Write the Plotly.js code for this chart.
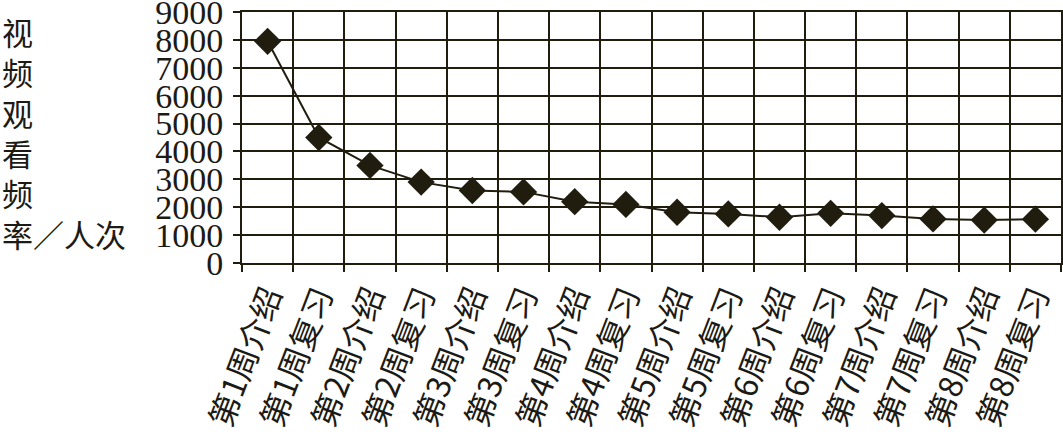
<!DOCTYPE html>
<html>
<head>
<meta charset="utf-8">
<script src="https://cdn.plot.ly/plotly-3.0.1.min.js"></script>
<style>
  html, body { margin: 0; padding: 0; background: #ffffff; }
  #chart { width: 1063px; height: 438px; }
</style>
</head>
<body>
<div id="chart"></div>
<script>
// Weekly sessions: introduction and review video for each of the 8 weeks
const categories = [
  "第1周介绍", "第1周复习", "第2周介绍", "第2周复习",
  "第3周介绍", "第3周复习", "第4周介绍", "第4周复习",
  "第5周介绍", "第5周复习", "第6周介绍", "第6周复习",
  "第7周介绍", "第7周复习", "第8周介绍", "第8周复习"
];
// Viewing frequency (person-times)
const views = [
  7950, 4500, 3500, 2900,
  2600, 2550, 2200, 2100,
  1820, 1760, 1640, 1780,
  1700, 1580, 1540, 1570
];
const yTickValues = [0, 1000, 2000, 3000, 4000, 5000, 6000, 7000, 8000, 9000];
const yTitleText = "视<br>频<br>观<br>看<br>频<br>率／人次";

const ink = "#211d0e";
const textInk = "#1c1a14";

const trace = {
  type: "scatter",
  mode: "lines+markers",
  x: categories,
  y: views,
  line: { color: ink, width: 2 },
  marker: { symbol: "diamond", size: 21, color: ink, line: { width: 0 } },
  cliponaxis: false,
  hoverinfo: "x+y"
};

const layout = {
  width: 1063,
  height: 438,
  margin: { l: 242, r: 2, t: 12, b: 175, autoexpand: false },
  paper_bgcolor: "#ffffff",
  plot_bgcolor: "#ffffff",
  showlegend: false,
  xaxis: {
    type: "category",
    range: [-0.5, categories.length - 0.5],
    autorange: false,
    tickson: "boundaries",
    showgrid: true,
    gridcolor: ink,
    gridwidth: 2,
    showline: true,
    linecolor: ink,
    linewidth: 2,
    mirror: true,
    ticks: "outside",
    ticklen: 7,
    tickwidth: 2,
    tickcolor: ink,
    tickangle: -69,
    tickfont: { family: "Noto Sans CJK SC", size: 32, color: textInk },
    ticklabeloverflow: "allow",
    zeroline: false,
    automargin: false,
    fixedrange: true
  },
  yaxis: {
    range: [0, 9000],
    autorange: false,
    tickmode: "array",
    tickvals: yTickValues,
    ticktext: yTickValues.map(String),
    showgrid: true,
    gridcolor: ink,
    gridwidth: 2,
    showline: true,
    linecolor: ink,
    linewidth: 2,
    mirror: true,
    zeroline: false,
    ticks: "outside",
    ticklen: 7,
    tickwidth: 2,
    tickcolor: ink,
    ticklabelstandoff: 3,
    ticklabeloverflow: "allow",
    tickfont: { family: "Liberation Serif", size: 34, color: textInk },
    automargin: false,
    fixedrange: true
  },
  annotations: [{
    xref: "paper",
    yref: "paper",
    x: -0.2951,
    y: 0.52,
    xanchor: "left",
    yanchor: "middle",
    align: "left",
    showarrow: false,
    text: yTitleText,
    font: { family: "Noto Sans CJK SC", size: 31, color: textInk }
  }]
};

Plotly.newPlot("chart", [trace], layout, { displayModeBar: false, staticPlot: true });
</script>
</body>
</html>
